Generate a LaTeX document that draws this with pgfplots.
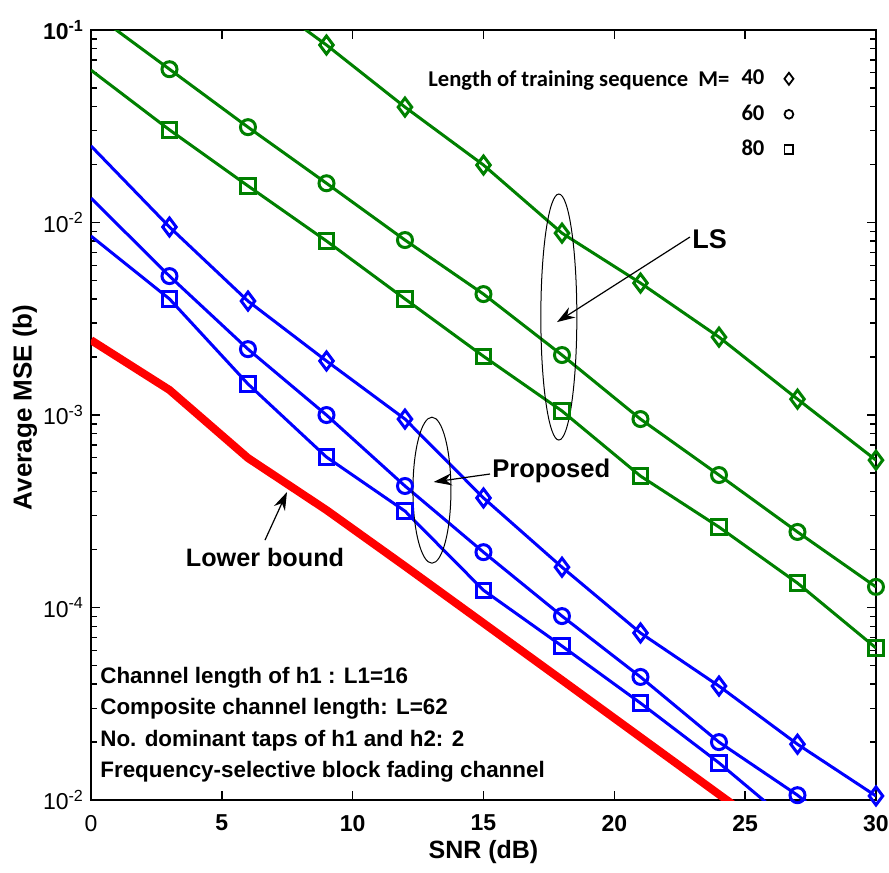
\documentclass[border=0pt]{standalone}
\usepackage{fontspec}
\setmainfont{Liberation Sans}
\newfontfamily\calib{Carlito}
\usepackage{pgfplots}
\pgfplotsset{compat=1.18}
\usetikzlibrary{arrows.meta}

\definecolor{lsgreen}{RGB}{0,128,0}
\definecolor{pblue}{RGB}{0,0,255}
\definecolor{lbred}{RGB}{255,0,0}

\begin{document}
\begin{tikzpicture}
\begin{axis}[
  scale only axis, width=392.5pt, height=385pt,
  xmin=0, xmax=30, ymode=log, ymin=1e-5, ymax=1e-1,
  xtick={0,5,10,15,20,25,30},
  xticklabels={0,\textbf{5},\textbf{10},\textbf{15},\textbf{20},\textbf{25},\textbf{30}},
  ytick={1e-5,1e-4,1e-3,1e-2,1e-1},
  yticklabels={10\textsuperscript{-2},10\textsuperscript{-4},10\textsuperscript{-3},10\textsuperscript{-2},\textbf{10\textsuperscript{-1}}},
  tick label style={font=\fontsize{11.5}{13}\selectfont, text=black},
  xticklabel style={yshift=-4pt},
  tick align=inside,
  major tick length=4.5pt, minor tick length=3pt,
  tick style={line width=0.7pt, black},
  axis line style={line width=1pt, black},
  ylabel={\textbf{Average MSE (b)}},
  ylabel style={at={(axis description cs:-0.084,0.51)}, rotate=0, anchor=center, font=\fontsize{13}{15}\selectfont},
  legend plot pos=right,
  legend cell align=left,
  legend style={draw=none, fill=none, at={(rel axis cs:0.818,0.958)}, anchor=north west,
    font=\calib\bfseries\fontsize{11.3}{13}\selectfont, row sep=5.75pt, column sep=9pt,
    nodes={inner sep=1pt, text height=8pt, text depth=2pt}},
]
\addlegendimage{only marks, mark=diamond, mark size=3pt, black, line width=0.9pt}
\addlegendentry{40}
\addlegendimage{only marks, mark=o, mark size=2.2pt, black, line width=0.9pt}
\addlegendentry{60}
\addlegendimage{only marks, mark=square, mark size=2.2pt, black, line width=0.9pt}
\addlegendentry{80}

% ---------- lines ----------
% LS, M=40
\addplot[forget plot, color=lsgreen, line width=1.5pt, no marks] coordinates {
(6,0.166) (9,0.0836) (12,0.0398) (15,0.0199) (18,0.00881) (21,0.00485) (24,0.00254) (27,0.00121) (30,0.000583)};
% LS, M=60
\addplot[forget plot, color=lsgreen, line width=1.5pt, no marks] coordinates {
(0,0.125) (3,0.0626) (6,0.0313) (9,0.0160) (12,0.00811) (15,0.00425) (18,0.00205) (21,0.000953) (24,0.000488) (27,0.000247) (30,0.000128)};
% LS, M=80
\addplot[forget plot, color=lsgreen, line width=1.5pt, no marks] coordinates {
(0,0.0619) (3,0.0303) (6,0.0155) (9,0.00802) (12,0.00401) (15,0.00202) (18,0.00105) (21,0.000482) (24,0.000262) (27,0.000134) (30,0.0000617)};
% Proposed, M=40
\addplot[forget plot, color=pblue, line width=1.5pt, no marks] coordinates {
(0,0.0250) (3,0.00948) (6,0.00391) (9,0.00191) (12,0.000953) (15,0.000371) (18,0.000162) (21,0.0000738) (24,0.0000391) (27,0.0000195) (30,0.0000105)};
% Proposed, M=60
\addplot[forget plot, color=pblue, line width=1.5pt, no marks] coordinates {
(0,0.0134) (3,0.00527) (6,0.00220) (9,0.00100) (12,0.000428) (15,0.000194) (18,0.0000903) (21,0.0000436) (24,0.0000200) (27,0.0000106) (30,0.0000050)};
% Proposed, M=80
\addplot[forget plot, color=pblue, line width=1.5pt, no marks] coordinates {
(0,0.00851) (3,0.00401) (6,0.00145) (9,0.000605) (12,0.000317) (15,0.000123) (18,0.0000631) (21,0.0000319) (24,0.0000156) (27,0.0000071)};
% Lower bound
\addplot[forget plot, color=lbred, line width=4pt, no marks] coordinates {
(0,0.00245) (3,0.00135) (6,0.000598) (9,0.000321) (12,0.000164) (15,0.0000830) (18,0.0000420) (21,0.0000212) (24,0.0000107) (27,0.00000543)};

% ---------- markers ----------
\addplot[forget plot, only marks, color=lsgreen, line width=1.5pt, mark=diamond, mark size=4.5pt, mark options={solid, fill=white}] coordinates {
(9,0.0836) (12,0.0398) (15,0.0199) (18,0.00881) (21,0.00485) (24,0.00254) (27,0.00121) (30,0.000583)};
\addplot[forget plot, only marks, color=lsgreen, line width=1.5pt, mark=o, mark size=3.75pt, mark options={solid, fill=white}] coordinates {
(3,0.0626) (6,0.0313) (9,0.0160) (12,0.00811) (15,0.00425) (18,0.00205) (21,0.000953) (24,0.000488) (27,0.000247) (30,0.000128)};
\addplot[forget plot, only marks, color=lsgreen, line width=1.5pt, mark=square, mark size=3.6pt, mark options={solid, fill=white}] coordinates {
(3,0.0303) (6,0.0155) (9,0.00802) (12,0.00401) (15,0.00202) (18,0.00105) (21,0.000482) (24,0.000262) (27,0.000134) (30,0.0000617)};
\addplot[forget plot, only marks, color=pblue, line width=1.5pt, mark=diamond, mark size=4.5pt, mark options={solid, fill=white}] coordinates {
(3,0.00948) (6,0.00391) (9,0.00191) (12,0.000953) (15,0.000371) (18,0.000162) (21,0.0000738) (24,0.0000391) (27,0.0000195) (30,0.0000105)};
\addplot[forget plot, only marks, color=pblue, line width=1.5pt, mark=o, mark size=3.75pt, mark options={solid, fill=white}] coordinates {
(3,0.00527) (6,0.00220) (9,0.00100) (12,0.000428) (15,0.000194) (18,0.0000903) (21,0.0000436) (24,0.0000200) (27,0.0000106)};
\addplot[forget plot, only marks, color=pblue, line width=1.5pt, mark=square, mark size=3.6pt, mark options={solid, fill=white}] coordinates {
(3,0.00401) (6,0.00145) (9,0.000605) (12,0.000317) (15,0.000123) (18,0.0000631) (21,0.0000319) (24,0.0000156)};

% ---------- annotations ----------
\draw[line width=0.5pt] (axis cs:17.88,3.23e-3) ellipse [x radius=9pt, y radius=61.5pt];
\draw[line width=0.5pt] (axis cs:13.03,4.07e-4) ellipse [x radius=9.5pt, y radius=36.5pt];
\draw[line width=0.6pt, -{Stealth[length=9pt, width=6pt]}] (axis cs:22.89,8.41e-3) -- (axis cs:17.81,3.04e-3);
\draw[line width=0.6pt, -{Stealth[length=9pt, width=6pt]}] (axis cs:15.25,4.94e-4) -- (axis cs:13.1,4.49e-4);
\draw[line width=0.6pt, -{Stealth[length=9pt, width=6pt]}] (axis cs:6.65,2.24e-4) -- (axis cs:7.49,3.98e-4);
\node[anchor=west, font=\bfseries\fontsize{13.5}{15}\selectfont, inner sep=0pt] at (axis cs:22.97,8.2e-3) {LS};
\node[anchor=west, font=\bfseries\fontsize{12.8}{14}\selectfont, inner sep=0pt] at (axis cs:15.32,5.12e-4) {Proposed};
\node[anchor=center, font=\bfseries\fontsize{12.6}{14}\selectfont, inner sep=0pt] at (axis cs:6.65,1.81e-4) {Lower bound};
\node[anchor=west, font=\bfseries\fontsize{11.2}{13}\selectfont, inner sep=0pt] at (axis cs:0.344,4.3e-5) {Channel length of h1 : L1=16};
\node[anchor=west, font=\bfseries\fontsize{11.2}{13}\selectfont, inner sep=0pt] at (axis cs:0.344,2.97e-5) {Composite channel length: L=62};
\node[anchor=west, font=\bfseries\fontsize{11.2}{13}\selectfont, inner sep=0pt] at (axis cs:0.344,2.03e-5) {No. dominant taps of h1 and h2: 2};
\node[anchor=west, font=\bfseries\fontsize{11.2}{13}\selectfont, inner sep=0pt] at (axis cs:0.344,1.41e-5) {Frequency-selective block fading channel};
\node[anchor=west, font=\calib\bfseries\fontsize{11.3}{13}\selectfont, inner sep=0pt] at (axis cs:12.88,0.0545) {Length of training sequence\ \ M=};

\coordinate (XL) at (rel axis cs:0.5,-0.068);
\coordinate (BL) at (rel axis cs:-0.1159,-0.0935);
\coordinate (TR) at (rel axis cs:1.0166,1.039);
\end{axis}
\node[anchor=center, font=\bfseries\fontsize{12.5}{14}\selectfont, inner sep=0pt] at (XL) {SNR (dB)};
\pgfresetboundingbox
\useasboundingbox (BL) rectangle (TR);
\end{tikzpicture}
\end{document}
